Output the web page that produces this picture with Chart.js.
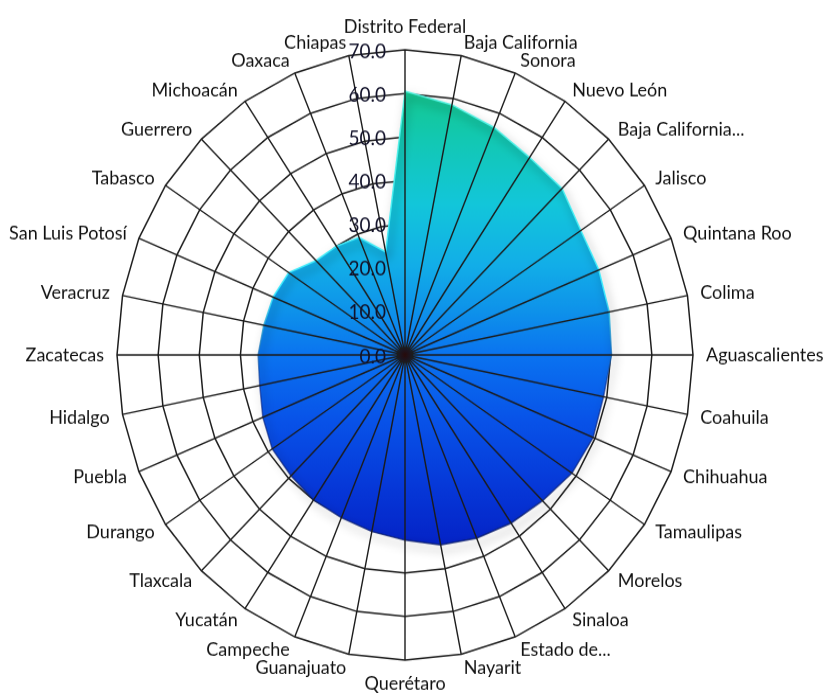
<!DOCTYPE html>
<html lang="es">
<head>
<meta charset="utf-8">
<title>Radar por entidad</title>
<script src="https://cdn.jsdelivr.net/npm/chart.js@4.4.1/dist/chart.umd.min.js"></script>
<style>
  html, body { margin: 0; padding: 0; background: #fff; }
  body { width: 823px; height: 695px; }
  #marco { width: 823px; height: 656px; transform: scaleY(1.0595); transform-origin: 0 0; }
</style>
</head>
<body>
<div id="marco"><canvas id="grafico" width="823" height="656"></canvas></div>
<script>
const estados = [
  'Distrito Federal', 'Baja California', 'Sonora', 'Nuevo León', 'Baja California...',
  'Jalisco', 'Quintana Roo', 'Colima', 'Aguascalientes', 'Coahuila', 'Chihuahua',
  'Tamaulipas', 'Morelos', 'Sinaloa', 'Estado de...', 'Nayarit', 'Querétaro',
  'Guanajuato', 'Campeche', 'Yucatán', 'Tlaxcala', 'Durango', 'Puebla', 'Hidalgo',
  'Zacatecas', 'Veracruz', 'San Luis Potosí', 'Tabasco', 'Guerrero', 'Michoacán',
  'Oaxaca', 'Chiapas'
];

const valores = [
  60.5, 58.5, 56.5, 54.5, 54.0, 51.4, 51.0, 50.6, 50.2, 49.2, 49.5,
  48.8, 47.3, 46.4, 45.5, 44.4, 42.5, 41.3, 40.4, 40.0, 39.2, 38.8,
  37.4, 36.0, 35.7, 35.0, 34.7, 34.0, 30.6, 30.0, 29.2, 24.1
];

const marcas = [0, 10, 20, 30, 40, 50, 60, 70];

// degradado vertical del relleno (verde arriba, azul oscuro abajo)
function degradado(context) {
  const chart = context.chart;
  const s = chart.scales.r;
  if (!s || !s.drawingArea) return '#0a70f0';
  const y0 = s.yCenter - s.drawingArea * 61 / 70;
  const y1 = s.yCenter + s.drawingArea * 45 / 70;
  const g = chart.ctx.createLinearGradient(0, y0, 0, y1);
  g.addColorStop(0.00, '#14c88e');
  g.addColorStop(0.12, '#12c8b6');
  g.addColorStop(0.25, '#12c6da');
  g.addColorStop(0.38, '#12aee8');
  g.addColorStop(0.48, '#0e92ea');
  g.addColorStop(0.58, '#0a72f0');
  g.addColorStop(0.72, '#0852e8');
  g.addColorStop(0.86, '#0638d8');
  g.addColorStop(1.00, '#0420c4');
  return g;
}

function borde(context) {
  const chart = context.chart;
  const s = chart.scales.r;
  if (!s || !s.drawingArea) return '#0030a0';
  const g = chart.ctx.createLinearGradient(0, s.yCenter - s.drawingArea, 0, s.yCenter + s.drawingArea);
  g.addColorStop(0, 'rgba(90,245,220,0.9)');
  g.addColorStop(0.4, 'rgba(60,235,255,0.95)');
  g.addColorStop(0.55, 'rgba(10,40,140,0.6)');
  g.addColorStop(1, 'rgba(0,10,70,0.9)');
  return g;
}

const sombra = {
  id: 'sombra',
  beforeDatasetDraw(chart) {
    const ctx = chart.ctx;
    ctx.save();
    ctx.shadowColor = 'rgba(0,0,0,0.6)';
    ctx.shadowBlur = 10;
    ctx.shadowOffsetX = 3;
    ctx.shadowOffsetY = 5;
  },
  afterDatasetDraw(chart) {
    chart.ctx.restore();
  }
};

// radios, marcas y nombres encima del relleno
const rotulos = {
  id: 'rotulos',
  afterDatasetsDraw(chart) {
    const s = chart.scales.r;
    const ctx = chart.ctx;
    const n = estados.length;
    ctx.save();

    ctx.strokeStyle = '#1c1c1c';
    ctx.lineWidth = 1.4;
    ctx.beginPath();
    for (let i = 0; i < n; i++) {
      const p = s.getPointPosition(i, s.drawingArea);
      ctx.moveTo(s.xCenter, s.yCenter);
      ctx.lineTo(p.x, p.y);
    }
    ctx.stroke();

    const punto = ctx.createRadialGradient(s.xCenter, s.yCenter, 0, s.xCenter, s.yCenter, 7);
    punto.addColorStop(0, 'rgba(40,10,10,1)');
    punto.addColorStop(0.7, 'rgba(30,20,30,0.9)');
    punto.addColorStop(1, 'rgba(30,20,40,0)');
    ctx.fillStyle = punto;
    ctx.beginPath();
    ctx.arc(s.xCenter, s.yCenter, 7, 0, Math.PI * 2);
    ctx.fill();

    ctx.font = '19px Lato';
    ctx.fillStyle = '#12122a';
    ctx.textAlign = 'right';
    ctx.textBaseline = 'middle';
    marcas.forEach(v => {
      const y = s.yCenter - s.getDistanceFromCenterForValue(v);
      ctx.fillText(v.toFixed(1), s.xCenter - 19, y + 1.5);
    });

    ctx.font = '18px Lato';
    ctx.fillStyle = '#111';
    for (let i = 0; i < n; i++) {
      const p = s.getPointPosition(i, s.drawingArea + 13);
      const ang = Math.round(i * 360 / n);
      if (ang === 0) {
        ctx.textAlign = 'center'; ctx.textBaseline = 'bottom';
      } else if (ang === 180) {
        ctx.textAlign = 'center'; ctx.textBaseline = 'top';
      } else if (ang < 180) {
        ctx.textAlign = 'left'; ctx.textBaseline = 'middle';
      } else {
        ctx.textAlign = 'right'; ctx.textBaseline = 'middle';
      }
      ctx.fillText(estados[i], p.x, p.y);
    }
    ctx.restore();
  }
};

const ctx = document.getElementById('grafico').getContext('2d');

new Chart(ctx, {
  type: 'radar',
  data: {
    labels: estados,
    datasets: [{
      label: 'Valor',
      data: valores,
      fill: true,
      backgroundColor: degradado,
      borderColor: borde,
      borderWidth: 1.5,
      pointRadius: 0,
      pointHoverRadius: 0,
      tension: 0
    }]
  },
  options: {
    responsive: false,
    animation: false,
    layout: {
      padding: { left: 117, right: 130, top: 47, bottom: 33 }
    },
    scales: {
      r: {
        min: 0,
        max: 70,
        afterBuildTicks: (eje) => { eje.ticks = marcas.map(v => ({ value: v })); },
        ticks: { display: false, stepSize: 10 },
        pointLabels: { display: false },
        angleLines: { display: false },
        grid: { color: '#1e1e1e', lineWidth: 1.5 }
      }
    },
    plugins: {
      legend: { display: false },
      tooltip: { enabled: false }
    }
  },
  plugins: [sombra, rotulos]
});
</script>
</body>
</html>
